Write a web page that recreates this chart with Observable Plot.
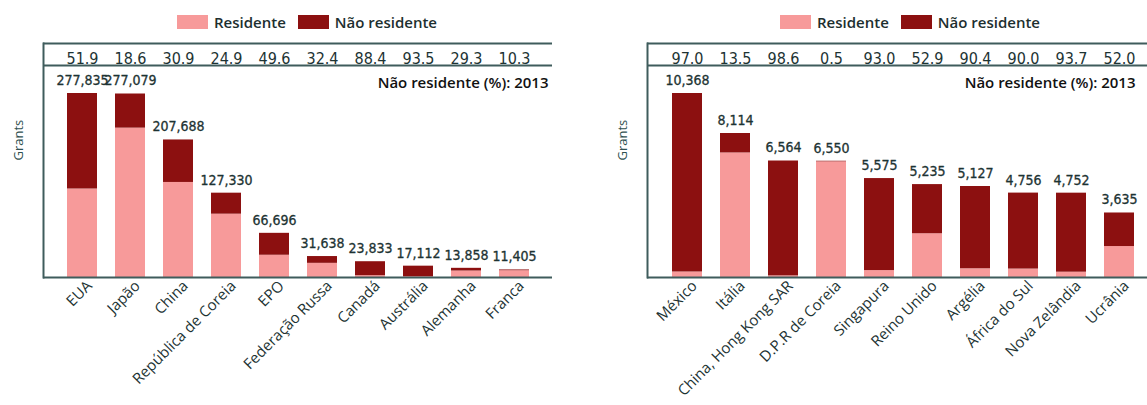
<!DOCTYPE html>
<html><head><meta charset="utf-8">
<script src="https://cdn.jsdelivr.net/npm/d3@7"></script>
<script src="https://cdn.jsdelivr.net/npm/@observablehq/plot@0.6"></script>
<style>
body{margin:0;background:#fff;font-family:"Open Sans",sans-serif;}
#wrap{display:flex;width:1147px;height:405px;overflow:hidden;}
.panel{position:relative;}
.legend{height:38px;display:flex;align-items:center;font-size:15px;font-weight:600;color:#1d2f2f;box-sizing:border-box;padding-top:6px;}
.sw{display:inline-block;width:31px;height:14px;margin-right:6px;}
.item{display:flex;align-items:center;margin-right:12px;}
svg{display:block;}
</style>
</head><body>
<div id="wrap"></div>
<script>
const seriesNames = ["Residente", "Não residente"];
const seriesColors = ["#f79a9a", "#8c1010"];

const leftCountries = ["EUA", "Japão", "China", "República de Coreia", "EPO", "Federação Russa", "Canadá", "Austrália", "Alemanha", "Franca"];
const leftTotals = [277835, 277079, 207688, 127330, 66696, 31638, 23833, 17112, 13858, 11405];
const leftNonResPct = [51.9, 18.6, 30.9, 24.9, 49.6, 32.4, 88.4, 93.5, 29.3, 10.3];

const rightCountries = ["México", "Itália", "China, Hong Kong SAR", "D.P.R de Coreia", "Singapura", "Reino Unido", "Argélia", "África do Sul", "Nova Zelândia", "Ucrânia"];
const rightTotals = [10368, 8114, 6564, 6550, 5575, 5235, 5127, 4756, 4752, 3635];
const rightNonResPct = [97.0, 13.5, 98.6, 0.5, 93.0, 52.9, 90.4, 90.0, 93.7, 52.0];

const pctTitle = "Não residente (%): 2013";
const yLabel = "Grants";

const lineColor = "#3f5c5c";
const textColor = "#1d3333";
const numFont = '"Liberation Sans Narrow", "DejaVu Sans Condensed", sans-serif';

function legend(padLeft) {
  const d = document.createElement("div");
  d.className = "legend";
  d.style.paddingLeft = padLeft + "px";
  seriesNames.forEach((n, i) => {
    const it = document.createElement("span");
    it.className = "item";
    it.innerHTML = `<span class="sw" style="background:${seriesColors[i]}"></span>${n}`;
    d.appendChild(it);
  });
  return d;
}

function panel({countries, totals, pct, width, marginLeft, marginRight, paddingOuter, align, titleDx, legendPad}) {
  const rows = countries.map((c, i) => ({country: c, total: totals[i], pct: pct[i]}));
  const long = rows.flatMap(d => [
    {country: d.country, type: seriesNames[0], value: d.total * (100 - d.pct) / 100},
    {country: d.country, type: seriesNames[1], value: d.total * d.pct / 100}
  ]);
  const yTop = d3.max(totals) * 234 / 184;
  const lineStyle = {stroke: lineColor, strokeWidth: 2};
  const chart = Plot.plot({
    width, height: 367,
    marginTop: 5, marginBottom: 128, marginLeft, marginRight,
    x: {domain: countries, paddingInner: 0.38, paddingOuter, align, axis: null},
    y: {domain: [0, yTop], axis: null},
    color: {domain: seriesNames, range: seriesColors},
    style: {fontFamily: '"Open Sans", sans-serif', background: "#fff"},
    marks: [
      Plot.barY(long, {x: "country", y: "value", fill: "type"}),
      Plot.text(rows, {x: "country", y: "total", text: d => d3.format(",")(d.total), dy: -13,
        fontSize: 14, fontFamily: numFont, fill: textColor, stroke: textColor, strokeWidth: 0.3}),
      Plot.text(rows, {x: "country", frameAnchor: "top", dy: 9, text: d => d.pct.toFixed(1),
        fontSize: 16, fontFamily: numFont, fill: textColor}),
      Plot.text([pctTitle], {text: d => d, frameAnchor: "top-right", dx: titleDx, dy: 34, textAnchor: "end",
        fontSize: 15, fontWeight: 600, fill: "#111"}),
      Plot.text([yLabel], {text: d => d, frameAnchor: "left", rotate: -90, dx: -25, dy: 0,
        fontSize: 13, fill: "#2f5050"}),
      Plot.ruleY([yTop], lineStyle),
      Plot.ruleY([yTop], {...lineStyle, dy: 22}),
      Plot.ruleY([0], lineStyle),
      Plot.frame({anchor: "left", ...lineStyle}),
      Plot.axisX({tickRotate: -45, tickSize: 0, tickPadding: 6, dx: 7, fontSize: 15, fill: textColor, label: null})
    ]
  });
  const p = document.createElement("div");
  p.className = "panel";
  p.style.width = width + "px";
  p.appendChild(legend(legendPad));
  p.appendChild(chart);
  return p;
}

const wrap = document.getElementById("wrap");
wrap.appendChild(panel({countries: leftCountries, totals: leftTotals, pct: leftNonResPct,
  width: 573, marginLeft: 43, marginRight: 21, paddingOuter: 0.43, align: 0.5, titleDx: -4, legendPad: 177}));
wrap.appendChild(panel({countries: rightCountries, totals: rightTotals, pct: rightNonResPct,
  width: 574, marginLeft: 74, marginRight: 0, paddingOuter: 0.36, align: 0.65, titleDx: -12, legendPad: 207}));
</script>
</body></html>
